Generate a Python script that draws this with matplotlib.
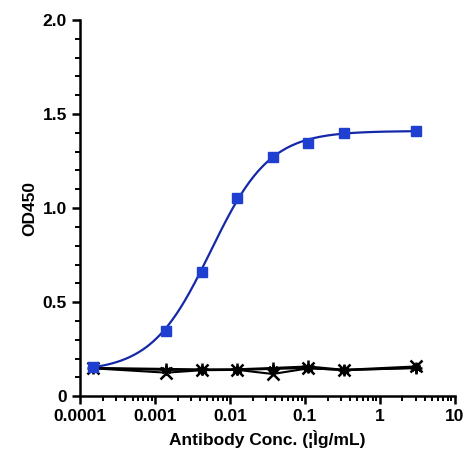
import numpy as np
import matplotlib.pyplot as plt
from matplotlib.ticker import FixedLocator, LogLocator, NullFormatter

plt.rcParams['font.family'] = ['Liberation Sans', 'DejaVu Sans']
plt.rcParams['font.weight'] = 'bold'

conc = [0.00015, 0.0014, 0.0042, 0.0125, 0.037, 0.111, 0.333, 3.0]
od_blue = [0.154, 0.346, 0.66, 1.055, 1.27, 1.346, 1.40, 1.41]
od_x = [0.148, 0.125, 0.138, 0.140, 0.118, 0.148, 0.140, 0.158]
od_plus = [0.150, 0.145, 0.142, 0.143, 0.150, 0.158, 0.140, 0.150]
od_star = [0.148, 0.140, 0.140, 0.140, 0.145, 0.150, 0.138, 0.150]

# 4PL fit parameters for the blue curve
bottom, top, ec50, hill = 0.13, 1.41, 0.0055, 1.1

fig, ax = plt.subplots(figsize=(4.66, 4.65), dpi=100)
fig.subplots_adjust(left=0.172, right=0.976, top=0.957, bottom=0.148)

xs = np.logspace(np.log10(0.00015), np.log10(3.0), 300)
ax.plot(xs, bottom + (top - bottom) / (1 + (ec50 / xs) ** hill), color='#1428a8', lw=1.6, zorder=3)
ax.plot(conc, od_blue, 's', color='#1f3fd0', ms=7, zorder=4)

ax.plot(conc, od_x, '-x', color='black', lw=1.5, ms=8, mew=1.8)
ax.plot(conc, od_plus, '-+', color='black', lw=1.5, ms=9, mew=1.8)
ax.plot(conc, od_star, '-', marker=(6, 2, 0), color='black', lw=1.5, ms=7, mew=1.5)

ax.set_xscale('log')
ax.set_xlim(0.0001, 10)
ax.set_ylim(0, 2.0)
ax.xaxis.set_major_locator(FixedLocator([0.0001, 0.001, 0.01, 0.1, 1, 10]))
ax.set_xticklabels(['0.0001', '0.001', '0.01', '0.1', '1', '10'])
ax.xaxis.set_minor_locator(LogLocator(base=10, subs=np.arange(2, 10)))
ax.xaxis.set_minor_formatter(NullFormatter())
ax.set_yticks([0, 0.5, 1.0, 1.5, 2.0])
ax.set_yticklabels(['0', '0.5', '1.0', '1.5', '2.0'])
ax.set_yticks(np.arange(0.1, 2.0, 0.1), minor=True)

for s in ['top', 'right']:
    ax.spines[s].set_visible(False)
for s in ['left', 'bottom']:
    ax.spines[s].set_linewidth(1.8)
ax.tick_params(which='major', direction='out', length=6, width=1.8, labelsize=12.5)
ax.tick_params(which='minor', direction='out', length=3.5, width=1.4)

ax.set_xlabel('Antibody Conc. (¦Ìg/mL)', fontsize=12.5, fontweight='bold')
ax.set_ylabel('OD450', fontsize=12.5, fontweight='bold')

fig.savefig('out.png')
